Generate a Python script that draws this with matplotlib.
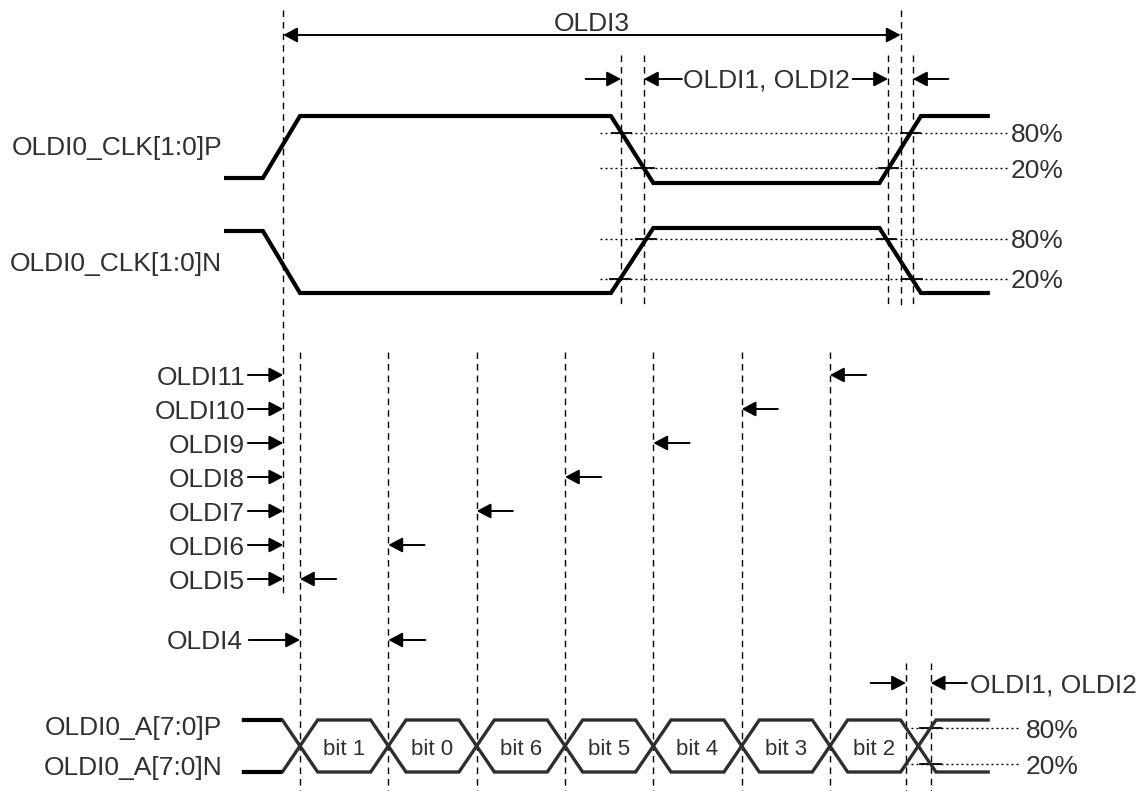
import numpy as np
import matplotlib
matplotlib.use('Agg')
import matplotlib.pyplot as plt

plt.rcParams['font.family'] = ['Liberation Sans', 'DejaVu Sans']
plt.rcParams['lines.scale_dashes'] = False

# ---------------- data (time axis in unit intervals, 1 clock period = 7 UI) ----------------
clk_t = [-0.86, -0.42, 0.0, 3.52, 4.0, 6.56, 7.03, 7.81]
clk_p_y = [178, 178, 116, 116, 183, 183, 116, 116]
clk_n_y = [231, 231, 293, 293, 228, 228, 293, 293]
clk_p_thr = [133, 168]          # 80 %, 20 % levels of CLK P
clk_n_thr = [239, 279]          # 80 %, 20 % levels of CLK N
thr_labels = ['80%', '20%']
clk_marks = [3.634, 3.894, 6.657, 6.94]   # threshold crossing instants
period_marks = [-0.19, 6.80]              # OLDI3 period limits

bit_names = ['bit 1', 'bit 0', 'bit 6', 'bit 5', 'bit 4', 'bit 3', 'bit 2']
bit_edges = [0, 1, 2, 3, 4, 5, 6, 7]
data_hi, data_lo = 720, 772
data_thr = [728, 764]
data_marks = [6.86, 7.14]
data_start, data_end = -0.66, 7.81
trans_half = 0.2

skew_labels = ['OLDI11', 'OLDI10', 'OLDI9', 'OLDI8', 'OLDI7', 'OLDI6', 'OLDI5']
skew_edges = [6, 5, 4, 3, 2, 1, 0]
skew_y = [375, 409, 443, 477, 511, 545, 579]

signal_labels = ['OLDI0_CLK[1:0]P', 'OLDI0_CLK[1:0]N', 'OLDI0_A[7:0]P', 'OLDI0_A[7:0]N']
signal_label_y = [145, 262, 725, 766]

# ---------------- layout ----------------
W, H = 1143, 791
PX_PER_UI = 88.33
X0 = 300
fig = plt.figure(figsize=(W / 100, H / 100), dpi=100)
ax = fig.add_axes([0, 0, 1, 1])
ax.set_xlim(-X0 / PX_PER_UI, (W - X0) / PX_PER_UI)
ax.set_ylim(H, 0)
ax.axis('off')

TXT = '#303030'
FS = 19
BL = 9.5   # baseline offset (px) so that caps are centred on y

def label(t, y, s, ha='left', fs=FS, off=BL):
    ax.text(t, y + off, s, ha=ha, va='baseline', fontsize=fs, color=TXT)

DASH = (4.7, 3.6)
DOT = (1.4, 2.2)

def vdash(t, y0, y1):
    ax.plot([t, t], [y0, y1], color='black', lw=1.0, dashes=DASH)

def hdot(t0, t1, y):
    ax.plot([t0, t1], [y, y], color='black', lw=1.0, dashes=DOT)

def arrow(tail, tip, y, style='-|>'):
    ax.annotate('', xy=(tip, y), xytext=(tail, y),
                arrowprops=dict(arrowstyle=style + ',head_length=0.85,head_width=0.45',
                                mutation_scale=10, lw=1.4, color='black',
                                shrinkA=0, shrinkB=0))

# ---------------- clock ----------------
thr_t0, thr_t1 = 3.40, 8.02
for thr in clk_p_thr + clk_n_thr:
    hdot(thr_t0, thr_t1, thr)
for thr, s in zip(clk_p_thr, thr_labels):
    label(8.05, thr, s)
for thr, s in zip(clk_n_thr, thr_labels):
    label(8.05, thr, s)

# small ticks at threshold crossings
for ys, thrs in ((clk_p_y, clk_p_thr), (clk_n_y, clk_n_thr)):
    for i in range(len(clk_t) - 1):
        t0, t1, y0, y1 = clk_t[i], clk_t[i + 1], ys[i], ys[i + 1]
        if y0 == y1 or t0 < thr_t0:
            continue
        for thr in thrs:
            tc = t0 + (thr - y0) / (y1 - y0) * (t1 - t0)
            ax.plot([tc - 0.11, tc + 0.11], [thr, thr], color='black', lw=1.3)

ax.plot(clk_t, clk_p_y, color='black', lw=3.0, solid_joinstyle='miter', solid_capstyle='butt')
ax.plot(clk_t, clk_n_y, color='black', lw=3.0, solid_joinstyle='miter', solid_capstyle='butt')

# dashed markers
vdash(period_marks[0], 10, 598)
vdash(period_marks[1], 10, 305)
for t in clk_marks:
    vdash(t, 55, 305)

# OLDI3
arrow(period_marks[0], period_marks[1], 35, style='<|-|>')
label(sum(period_marks) / 2, 21.5, 'OLDI3', ha='center')

# OLDI1, OLDI2 (clock)
yr = 79
arrow(clk_marks[0] - 0.40, clk_marks[0], yr)
arrow(clk_marks[1] + 0.43, clk_marks[1], yr)
arrow(clk_marks[2] - 0.40, clk_marks[2], yr)
arrow(clk_marks[3] + 0.40, clk_marks[3], yr)
label((clk_marks[1] + clk_marks[2]) / 2, yr, 'OLDI1, OLDI2', ha='center', off=8.5)

# ---------------- skew rows ----------------
for t in bit_edges[:-1]:
    vdash(t, 352, 791)
for s, e, y in zip(skew_labels, skew_edges, skew_y):
    label(-0.62, y, s, ha='right', off=10)
    arrow(-0.59, period_marks[0], y)
    arrow(e + 0.41, e, y)
label(-0.645, 640, 'OLDI4', ha='right', off=9)
arrow(-0.58, bit_edges[0], 640)
arrow(bit_edges[1] + 0.42, bit_edges[1], 640)

# ---------------- data lanes ----------------
DCOL = '#2e2e2e'
for t in data_marks:
    vdash(t, 663, 791)
last = bit_edges[-1]
for thr in data_thr:
    hdot(data_marks[0], 8.15, thr)
    frac = max(thr - data_hi, data_lo - thr) / (data_lo - data_hi)
    tc = last - trans_half + 2 * trans_half * frac
    ax.plot([tc - 0.12, tc + 0.12], [thr, thr], color='black', lw=1.3)
for thr, s in zip(data_thr, thr_labels):
    label(8.22, thr, s)

for start_level in (data_hi, data_lo):
    other = data_lo if start_level == data_hi else data_hi
    lev = start_level
    xs, ys = [data_start], [lev]
    for k in bit_edges:
        nxt = other if lev == start_level else start_level
        xs += [k - trans_half, k + trans_half]
        ys += [lev, nxt]
        lev = nxt
    xs.append(data_end)
    ys.append(lev)
    ax.plot(xs, ys, color=DCOL, lw=2.4, solid_joinstyle='miter', solid_capstyle='butt')
    ax.plot([data_start, -trans_half], [start_level, start_level], color='black', lw=3.0,
            solid_capstyle='butt')

for name, k in zip(bit_names, bit_edges[:-1]):
    ax.text(k + 0.5, 755, name, ha='center', va='baseline', fontsize=16, color=TXT)

arrow(data_marks[0] - 0.40, data_marks[0], 683)
arrow(data_marks[1] + 0.41, data_marks[1], 683)
label(7.59, 683, 'OLDI1, OLDI2', off=9)

# signal names
for s, y in zip(signal_labels, signal_label_y):
    label(-0.883, y, s, ha='right')

fig.savefig('out.png', dpi=100, facecolor='white')
